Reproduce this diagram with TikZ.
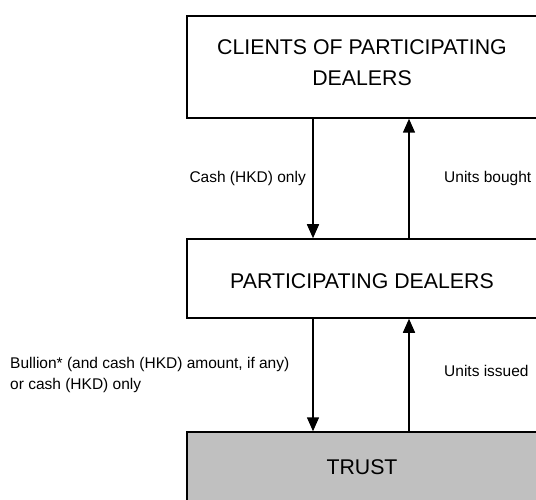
\documentclass[tikz,border=0pt]{standalone}
\usepackage{fontspec}
\setmainfont{Liberation Sans}
\usetikzlibrary{arrows.meta}
\definecolor{trustgray}{HTML}{C0C0C0}
\tikzset{
  boxshape/.style={draw=black, line width=1.5pt, rectangle, inner sep=0pt},
  boxtext/.style={font=\fontsize{21.3}{31}\selectfont, align=center, inner sep=0pt},
  smalltext/.style={font=\fontsize{15.5}{21}\selectfont, inner sep=0pt},
  flow/.style={draw=black, line width=1.5pt, -{Triangle[width=12pt,length=14pt]}}
}
\begin{document}
\begin{tikzpicture}[x=1pt,y=-1pt]
\useasboundingbox (0,0) rectangle (536,500);
\clip (0,0) rectangle (536,500);
\fill[white] (0,0) rectangle (536,500);
\node[boxshape, minimum width=351pt, minimum height=102pt] (top) at (362.5,67) {};
\node[boxshape, minimum width=351pt, minimum height=79pt] (mid) at (362.5,278.5) {};
\node[boxshape, fill=trustgray, minimum width=351pt, minimum height=80pt] (trust) at (362.5,472) {};
\node[boxtext] (toptext) at (362,62.5) {CLIENTS OF PARTICIPATING\\DEALERS};
\node[boxtext] (midtext) at (362,281) {PARTICIPATING DEALERS};
\node[boxtext] (trusttext) at (362,467) {TRUST};
\coordinate (xl) at (313,0);
\coordinate (xr) at (409,0);
\draw[flow] (xl |- top.south) -- (xl |- mid.north);
\draw[flow] (xr |- mid.north) -- (xr |- top.south);
\draw[flow] (xl |- mid.south) -- (xl |- trust.north);
\draw[flow] (xr |- trust.north) -- (xr |- mid.south);
\node[smalltext, anchor=east] (cashlbl) at (306,178) {Cash (HKD) only};
\node[smalltext, anchor=west] (boughtlbl) at (444,178) {Units bought};
\node[smalltext, anchor=west, align=left] (bullionlbl) at (10,375) {Bullion* (and cash (HKD) amount, if any)\\or cash (HKD) only};
\node[smalltext, anchor=west] (issuedlbl) at (444,371) {Units issued};
\end{tikzpicture}
\end{document}
